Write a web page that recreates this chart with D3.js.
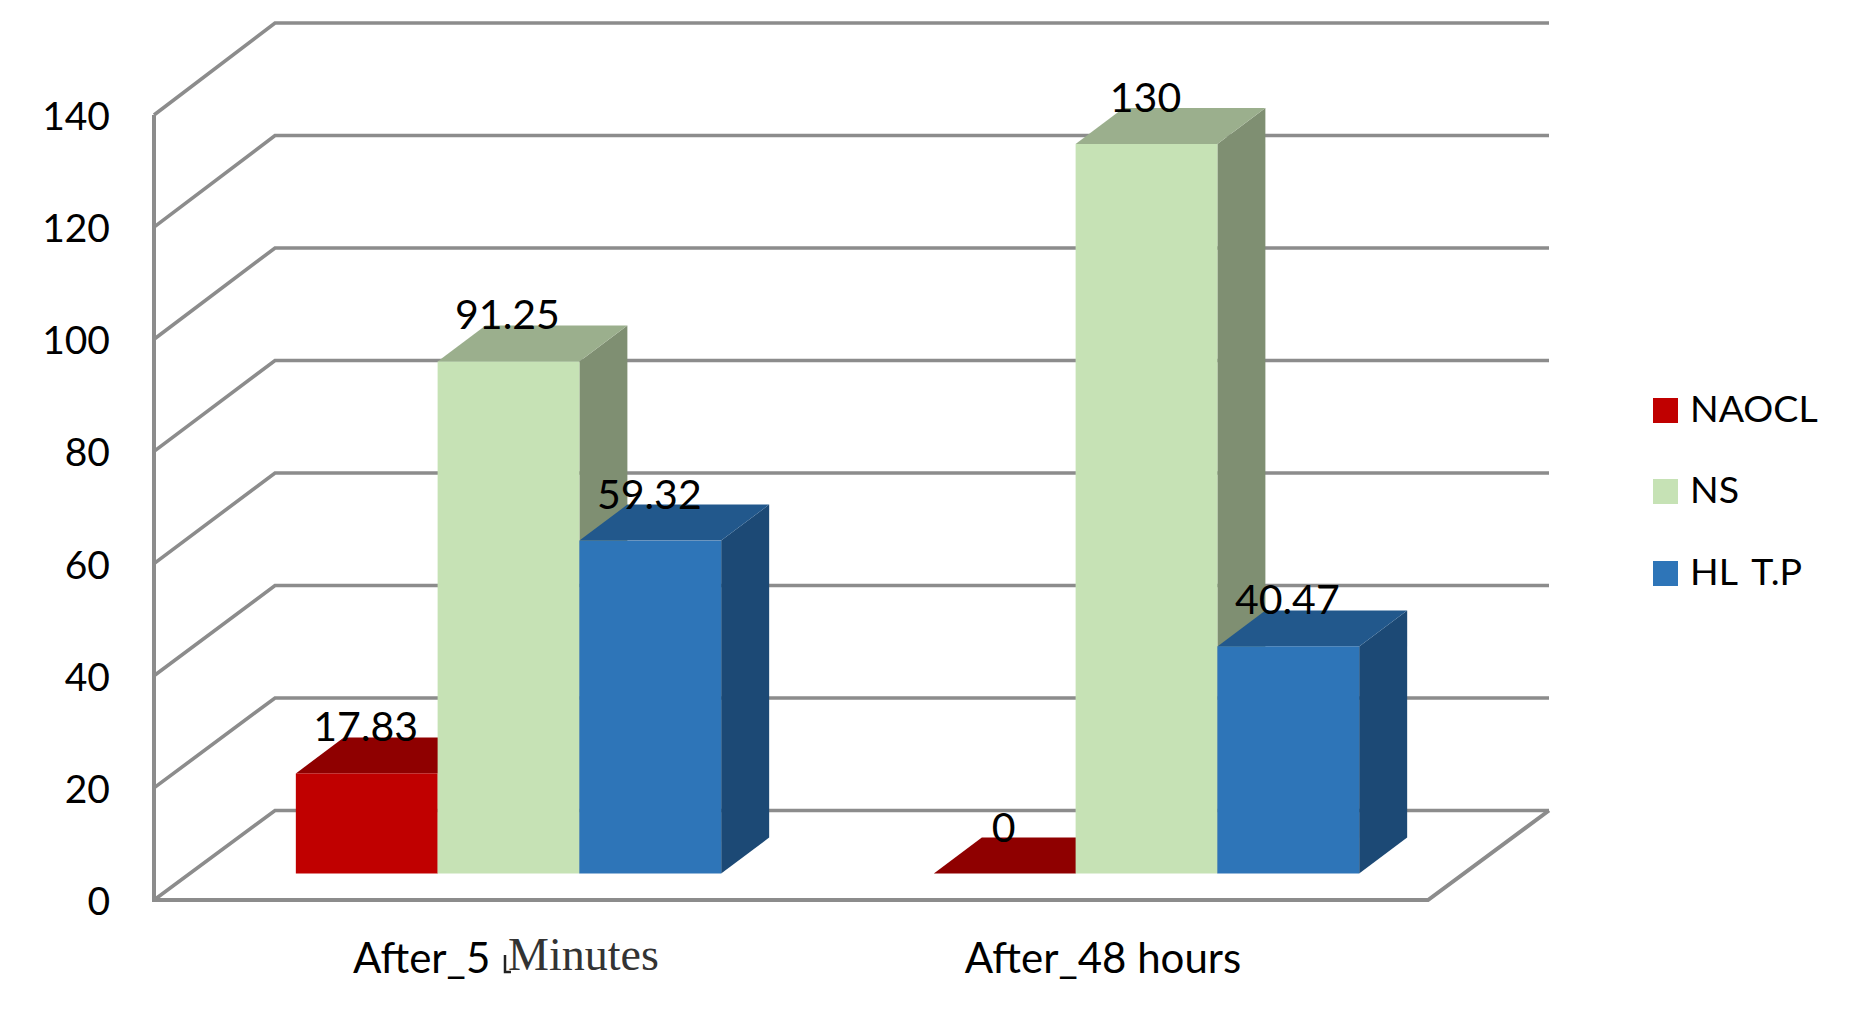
<!DOCTYPE html>
<html>
<head>
<meta charset="utf-8">
<script src="https://d3js.org/d3.v7.min.js"></script>
<style>
  html, body { margin: 0; padding: 0; background: #fff; }
  svg { display: block; }
  text { font-family: Lato, "Open Sans", sans-serif; fill: #000; }
</style>
</head>
<body>
<svg id="chart" width="1854" height="1010"></svg>
<script>
// Chart data
const categories = ["After_5 Minutes", "After_48 hours"];
const seriesNames = ["NAOCL", "NS", "HL T.P"];
const naoclValues = [17.83, 0];
const nsValues = [91.25, 130];
const hlValues = [59.32, 40.47];
const yTicks = [0, 20, 40, 60, 80, 100, 120, 140];

const seriesValues = [naoclValues, nsValues, hlValues];
const faceColors = ["#C00000", "#C6E2B5", "#2E75B8"];
const topColors = ["#8F0000", "#9BAF8D", "#22588C"];
const sideColors = ["#8F0000", "#7F8F72", "#1C4975"];

const svg = d3.select("#chart");
const gridColor = "#8C8C8C";

// Box geometry: front-left corner, wall depth and bar depth
const frontLeft = 154, frontRight = 1428, backLeft = 275, backRight = 1549;
const depthX = 48, depthY = 36;

const yFront = d3.scaleLinear().domain([0, 140]).range([900, 115]);
const yBack = d3.scaleLinear().domain([0, 140]).range([810.5, 23]);
const yBar = d3.scaleLinear().domain([0, 130]).range([873.5, 144]);

const xGroup = d3.scaleBand().domain(categories).range([189.5, 1465.5])
  .paddingInner(1 / 3).paddingOuter(1 / 6);
const xSeries = d3.scaleBand().domain(seriesNames).range([0, xGroup.bandwidth()]);

// Walls: one bent line per tick, running along the side wall and the back wall
svg.append("g").selectAll("path").data(yTicks).join("path")
  .attr("fill", "none").attr("stroke", gridColor).attr("stroke-width", 3.6)
  .attr("stroke-linejoin", "miter")
  .attr("d", t => d3.line()([[frontLeft, yFront(t)], [backLeft, yBack(t)], [backRight, yBack(t)]]));

// Front axis lines and the open floor edge
svg.append("path").attr("fill", "none").attr("stroke", gridColor).attr("stroke-width", 4)
  .attr("d", d3.line()([[frontLeft, yFront(140)], [frontLeft, yFront(0)], [frontRight, yFront(0)], [backRight, yBack(0)]]));

// Value-axis labels
svg.append("g").selectAll("text").data(yTicks).join("text")
  .attr("x", 110).attr("y", t => yFront(t) + 15)
  .attr("text-anchor", "end").attr("font-size", 39)
  .text(t => t);

// Bars: each one has a front face, a top and a right side
const rows = categories.flatMap((c, ci) => seriesNames.map((s, si) => ({
  c, s, si, value: seriesValues[si][ci]
})));

const bars = svg.append("g").selectAll("g").data(rows).join("g");
const left = d => xGroup(d.c) + xSeries(d.s);
const right = d => left(d) + xSeries.bandwidth();

bars.append("path").attr("fill", d => sideColors[d.si])
  .attr("d", d => d3.line()([
    [right(d), yBar(0)], [right(d) + depthX, yBar(0) - depthY],
    [right(d) + depthX, yBar(d.value) - depthY], [right(d), yBar(d.value)]
  ]) + "Z");
bars.append("path").attr("fill", d => topColors[d.si])
  .attr("d", d => d3.line()([
    [left(d), yBar(d.value)], [left(d) + depthX, yBar(d.value) - depthY],
    [right(d) + depthX, yBar(d.value) - depthY], [right(d), yBar(d.value)]
  ]) + "Z");
bars.append("rect").attr("fill", d => faceColors[d.si])
  .attr("x", left).attr("y", d => yBar(d.value))
  .attr("width", xSeries.bandwidth()).attr("height", d => yBar(0) - yBar(d.value));

// Value labels sit above each bar's front edge
svg.append("g").selectAll("text").data(rows).join("text")
  .attr("x", d => left(d) + xSeries.bandwidth() / 2 - 1)
  .attr("y", d => yBar(d.value) - 32)
  .attr("text-anchor", "middle").attr("font-size", 41)
  .text(d => d.value);

// Category labels; the last word of the first label is set in a serif face
const catLabels = svg.append("g").selectAll("text").data(categories).join("text")
  .attr("y", 973).attr("font-size", 42);
catLabels.filter((d, i) => i === 1)
  .attr("x", 1103).attr("text-anchor", "middle").text(d => d);
const firstLabel = catLabels.filter((d, i) => i === 0).attr("x", 353);
firstLabel.append("tspan").text(d => d.split(" ")[0] + " ");
firstLabel.append("tspan").attr("x", 508).attr("y", 970)
  .attr("font-family", '"Liberation Serif", serif').attr("font-size", 46)
  .attr("fill", "#333").text(d => d.split(" ")[1]);

// Small stem left over in front of the serif word
svg.append("path").attr("fill", "none").attr("stroke", "#222").attr("stroke-width", 2.5)
  .attr("d", "M505,955V972H511");

// Legend
const legend = svg.append("g").selectAll("g").data(seriesNames).join("g")
  .attr("transform", (d, i) => `translate(1653,${[398, 479, 561][i]})`);
legend.append("rect").attr("width", 25).attr("height", 25).attr("fill", (d, i) => faceColors[i]);
legend.append("text").attr("x", 37).attr("y", 23.5).attr("font-size", 37.5)
  .attr("word-spacing", 6).text(d => d);
</script>
</body>
</html>
